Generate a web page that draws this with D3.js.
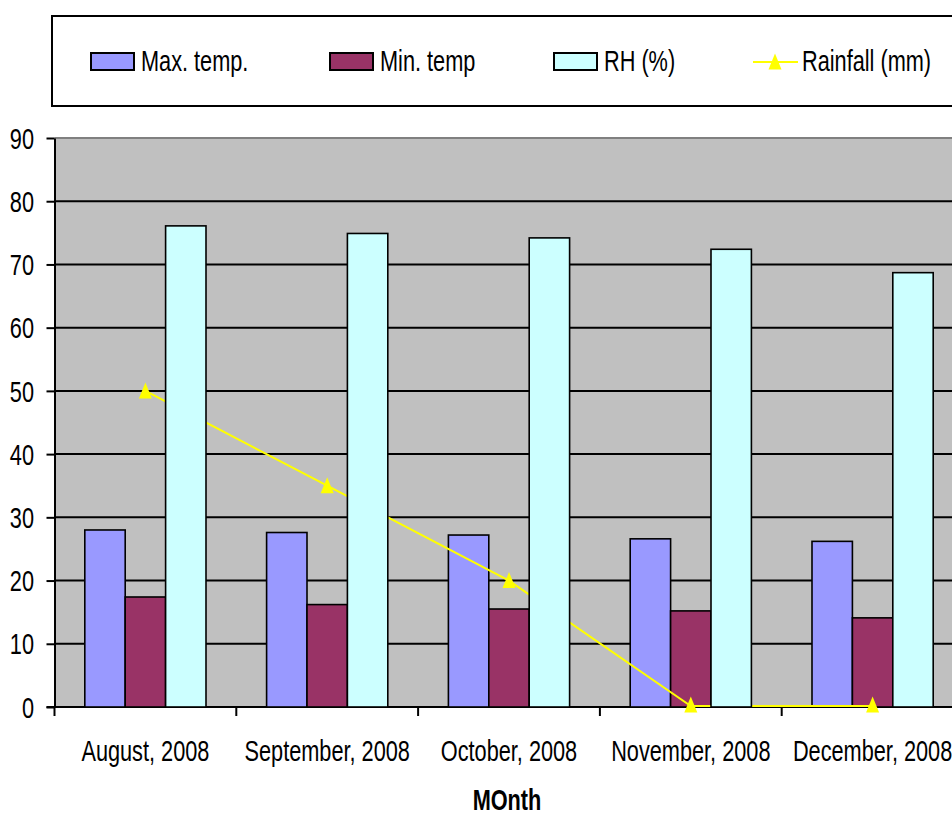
<!DOCTYPE html>
<html>
<head>
<meta charset="utf-8">
<script src="https://cdn.jsdelivr.net/npm/d3@7"></script>
<style>
  html, body { margin: 0; padding: 0; background: #ffffff; }
  svg { display: block; }
  text { font-family: "Liberation Sans", Arial, sans-serif; fill: #000; }
</style>
</head>
<body>
<svg id="chart" width="952" height="815"></svg>
<script>
// Monthly weather record, August–December 2008
const months = ["August, 2008", "September, 2008", "October, 2008", "November, 2008", "December, 2008"];
const maxTemp = [28.0, 27.6, 27.2, 26.6, 26.2];
const minTemp = [17.4, 16.2, 15.5, 15.2, 14.1];
const rhPct = [76.1, 74.9, 74.2, 72.4, 68.7];
const rainfall = [50, 35, 20, 0, 0];
const yTicks = [0, 10, 20, 30, 40, 50, 60, 70, 80, 90];

const barSeries = [
  { name: "Max. temp.", values: maxTemp, color: "#9999FF" },
  { name: "Min. temp", values: minTemp, color: "#993366" },
  { name: "RH (%)", values: rhPct, color: "#CCFFFF" }
];

const svg = d3.select("#chart");
const FONT = 26.5;
// condensed, slightly tall lettering
const SX = 0.82, SY = 1.1;
const NARROW = `scale(${SX},${SY})`;

const plot = { left: 54.5, right: 963.5, top: 138, bottom: 707 };

const x = d3.scaleBand().domain(months).range([plot.left, plot.right]).paddingInner(0).paddingOuter(0);
const xSub = d3.scaleBand().domain(barSeries.map(s => s.name)).range([0, x.bandwidth()]).paddingInner(0).paddingOuter(0.75);
const y = d3.scaleLinear().domain([0, 90]).range([plot.bottom, plot.top]);

// plot area background
svg.append("rect")
  .attr("x", plot.left).attr("y", plot.top)
  .attr("width", plot.right - plot.left).attr("height", plot.bottom - plot.top)
  .attr("fill", "#C0C0C0");

// top border of plot area
svg.append("line")
  .attr("x1", plot.left).attr("x2", plot.right)
  .attr("y1", y(90)).attr("y2", y(90))
  .attr("stroke", "#808080").attr("stroke-width", 2);

// horizontal gridlines
svg.append("g").selectAll("line")
  .data(yTicks.filter(t => t > 0 && t < 90))
  .join("line")
  .attr("x1", plot.left).attr("x2", plot.right)
  .attr("y1", d => y(d)).attr("y2", d => y(d))
  .attr("stroke", "#000").attr("stroke-width", 2);

// category axis baseline
const gx = svg.append("g").attr("transform", `translate(0,${plot.bottom})`);
gx.append("line")
  .attr("x1", plot.left - 8).attr("x2", plot.right)
  .attr("y1", 0).attr("y2", 0)
  .attr("stroke", "#000").attr("stroke-width", 2);
const boundaries = months.map(m => x(m)).concat([plot.right]);
gx.selectAll("line.tk")
  .data(boundaries)
  .join("line")
  .attr("class", "tk")
  .attr("x1", d => d).attr("x2", d => d)
  .attr("y1", 0).attr("y2", 9)
  .attr("stroke", "#000").attr("stroke-width", 2);

function drawBars(series) {
  svg.append("g").selectAll("rect")
    .data(series.values.map((v, i) => ({ m: months[i], v })))
    .join("rect")
    .attr("x", d => x(d.m) + xSub(series.name))
    .attr("y", d => y(d.v))
    .attr("width", xSub.bandwidth())
    .attr("height", d => y(0) - y(d.v))
    .attr("fill", series.color)
    .attr("stroke", "#000")
    .attr("stroke-width", 1.6);
}

drawBars(barSeries[0]);
drawBars(barSeries[1]);

// rainfall line (passes behind the RH bars)
const center = m => x(m) + x.bandwidth() / 2;
const rainPts = rainfall.map((v, i) => ({ m: months[i], v }));
svg.append("path")
  .datum(rainPts)
  .attr("fill", "none")
  .attr("stroke", "#FFFF00")
  .attr("stroke-width", 2)
  .attr("d", d3.line().x(d => center(d.m)).y(d => Math.min(y(d.v), plot.bottom - 1)));

drawBars(barSeries[2]);

// value axis
const yAxis = d3.axisLeft(y).tickValues(yTicks).tickSize(8).tickPadding(12).tickSizeOuter(0);
const gy = svg.append("g").attr("transform", `translate(${plot.left},0)`).call(yAxis);
gy.attr("font-family", null).attr("font-size", null);
gy.select(".domain").attr("stroke", "#000").attr("stroke-width", 2);
gy.selectAll(".tick line").attr("stroke", "#000").attr("stroke-width", 2);
gy.selectAll(".tick text")
  .attr("font-size", FONT)
  .attr("x", -20.5 / SX)
  .attr("dy", "0.35em")
  .attr("transform", NARROW);

// category labels
gx.selectAll("text.cat")
  .data(months)
  .join("text")
  .attr("class", "cat")
  .attr("text-anchor", "middle")
  .attr("font-size", FONT)
  .attr("transform", d => `translate(${center(d)},54) ${NARROW}`)
  .text(d => d);

// rainfall markers: upright triangles
const tri = "M0,-8.5L6.5,7.5L-6.5,7.5Z";
svg.append("g").selectAll("path")
  .data(rainPts)
  .join("path")
  .attr("d", tri)
  .attr("fill", "#FFFF00")
  .attr("transform", d => `translate(${center(d.m)},${Math.min(y(d.v), plot.bottom - 2)})`);

// axis title
svg.append("text")
  .attr("text-anchor", "middle")
  .attr("font-size", FONT)
  .attr("font-weight", "bold")
  .attr("transform", `translate(507,810) ${NARROW}`)
  .text("MOnth");

// legend
const legend = svg.append("g");
legend.append("rect")
  .attr("x", 52).attr("y", 16)
  .attr("width", 1000).attr("height", 90)
  .attr("fill", "#fff").attr("stroke", "#000").attr("stroke-width", 2);

const legendX = [91, 330, 554];
barSeries.forEach((s, i) => {
  legend.append("rect")
    .attr("x", legendX[i]).attr("y", 53)
    .attr("width", 43).attr("height", 17)
    .attr("fill", s.color).attr("stroke", "#000").attr("stroke-width", 2);
  legend.append("text")
    .attr("font-size", FONT)
    .attr("transform", `translate(${legendX[i] + 50},71) ${NARROW}`)
    .text(s.name);
});
legend.append("line")
  .attr("x1", 753).attr("x2", 798)
  .attr("y1", 62).attr("y2", 62)
  .attr("stroke", "#FFFF00").attr("stroke-width", 2);
legend.append("path")
  .attr("d", tri)
  .attr("fill", "#FFFF00")
  .attr("transform", "translate(775,62)");
legend.append("text")
  .attr("font-size", FONT)
  .attr("transform", `translate(802,71) ${NARROW}`)
  .text("Rainfall (mm)");
</script>
</body>
</html>
